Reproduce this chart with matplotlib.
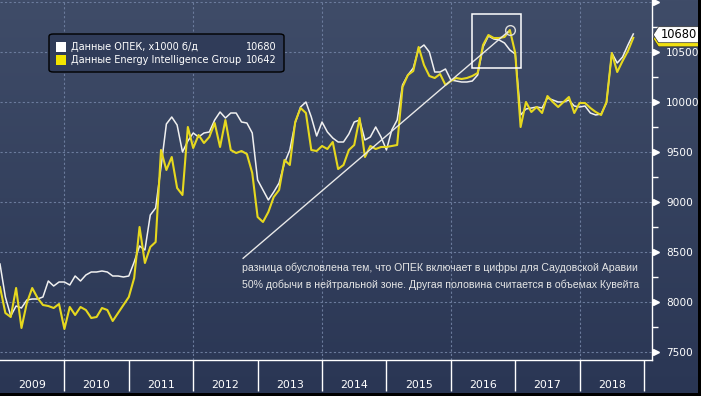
import numpy as np
import matplotlib
matplotlib.use('Agg')
import matplotlib.pyplot as plt
from matplotlib.patches import FancyBboxPatch, Rectangle, Polygon
from matplotlib.transforms import blended_transform_factory

# ---- data (monthly, Jan 2009 .. Nov 2018), thousand barrels/day ----
years = [2009, 2010, 2011, 2012, 2013, 2014, 2015, 2016, 2017, 2018]
opec = [8380, 8050, 7860, 7960, 7940, 8020, 8030, 8030, 8050, 8210, 8160, 8200,
        8200, 8170, 8260, 8210, 8270, 8300, 8300, 8310, 8300, 8260, 8260, 8250,
        8260, 8400, 8560, 8520, 8870, 8940, 9350, 9780, 9850, 9770, 9500, 9610,
        9690, 9650, 9690, 9700, 9820, 9900, 9840, 9890, 9890, 9800, 9790, 9690,
        9220, 9120, 9020, 9100, 9190, 9390, 9520, 9790, 9950, 10000, 9850, 9660,
        9800, 9700, 9640, 9600, 9600, 9680, 9800, 9820, 9620, 9650, 9750, 9650,
        9520, 9720, 9820, 10170, 10270, 10340, 10530, 10570, 10500, 10300, 10300, 10330,
        10220, 10210, 10200, 10200, 10210, 10270, 10550, 10660, 10630, 10620, 10590, 10520,
        10480, 9870, 9930, 9940, 9950, 9940, 10040, 10020, 10000, 10000, 10020, 9960,
        9950, 9960, 9890, 9870, 9880, 9990, 10490, 10390, 10450, 10570, 10680]
eig = [8150, 7890, 7850, 8140, 7740, 7990, 8140, 8040, 7970, 7960, 7940, 7980,
       7730, 7950, 7870, 7950, 7920, 7840, 7850, 7940, 7920, 7810, 7890, 7970,
       8050, 8240, 8750, 8390, 8550, 8600, 9520, 9320, 9450, 9140, 9070, 9750,
       9540, 9670, 9590, 9650, 9790, 9550, 9820, 9520, 9490, 9510, 9480, 9290,
       8850, 8800, 8900, 9050, 9120, 9420, 9370, 9800, 9940, 9890, 9520, 9510,
       9560, 9530, 9600, 9330, 9370, 9520, 9570, 9840, 9450, 9560, 9530, 9550,
       9550, 9560, 9570, 10150, 10270, 10310, 10550, 10370, 10260, 10240, 10280, 10170,
       10210, 10240, 10230, 10240, 10260, 10290, 10570, 10670, 10640, 10640, 10650, 10720,
       10490, 9750, 10000, 9900, 9950, 9890, 10060, 10000, 9950, 10000, 10050, 9890,
       9990, 9990, 9940, 9900, 9870, 10000, 10490, 10300, 10410, 10510, 10642]
legend_labels = ['Данные ОПЕК, x1000 б/д', 'Данные Energy Intelligence Group']
y_ticks = [7500, 8000, 8500, 9000, 9500, 10000, 10500, 11000]
note_lines = ['разница обусловлена тем, что ОПЕК включает в цифры для Саудовской Аравии',
              '50% добычи в нейтральной зоне. Другая половина считается в объемах Кувейта']

months = np.arange(len(opec))

W, H = 701, 396
fig = plt.figure(figsize=(W / 100, H / 100), dpi=100)


def fx(x):
    return x / W


def fy(y):
    return 1 - y / H


# background gradient
bg = fig.add_axes([0, 0, 1, 1], zorder=-10)
g = np.linspace(0, 1, 256)[:, None, None]
top = np.array([63, 76, 104]) / 255
bot = np.array([42, 54, 84]) / 255
img = top + (bot - top) * g
bg.imshow(img, aspect='auto', extent=[0, 1, 0, 1])
bg.set_axis_off()

ax = fig.add_axes([0, 36 / H, 652 / W, 360 / H])
ax.set_facecolor('none')
ax.set_xlim(0, 652 / 5.367)
ax.set_ylim(7420, 11020)

grid_c = '#6b7b9c'
ax.set_yticks(y_ticks)
ax.set_yticklabels([str(v) for v in y_ticks[:-1]] + [''])
ax.yaxis.grid(True, ls=(0, (2, 2)), color=grid_c, lw=0.8, zorder=0)
for m in [12, 36, 60, 84, 108]:
    ax.axvline(m, ls=(0, (2, 2)), color=grid_c, lw=0.8, zorder=0)

ax.plot(months, opec, color='#f0f0f0', lw=1.1, zorder=3)
ax.plot(months, eig, color='#e6d81e', lw=1.5, zorder=4)

# annotations
ax.plot([45.3, 94.6], [8437, 10700], color='#e8e8e8', lw=1.0, zorder=5)
ax.plot([95], [10720], marker='o', ms=7, mfc='none', mec='#dddddd', mew=1, zorder=6)
ax.add_patch(Rectangle((88.0, 10337), 9.0, 540, fill=False, ec='white', lw=1.1, zorder=6))
for i, line in enumerate(note_lines):
    fig.text(fx(242), fy(268 + 17 * i), line, fontsize=7.55, family='Liberation Sans',
             color='#e6e6e6', va='center', ha='left')

# y axis on the right
ax.yaxis.tick_right()
ax.tick_params(axis='y', which='major', length=0, labelsize=7.6, labelcolor='white', pad=10)
ax.set_yticks(np.arange(7750, 11000, 500), minor=True)
ax.tick_params(axis='y', which='minor', length=4, color='white', width=1, direction='out')
tr = blended_transform_factory(ax.transAxes, ax.transData)
ax.plot([656 / 652] * len(y_ticks), y_ticks, transform=tr, marker='>', ms=5, color='white',
        ls='none', clip_on=False, zorder=7)

for s in ['top', 'left']:
    ax.spines[s].set_visible(False)
for s in ['right', 'bottom']:
    ax.spines[s].set_color('white')
    ax.spines[s].set_linewidth(1)

# x axis: year separators and labels
ax.set_xticks(np.arange(12, 121, 12))
ax.set_xticklabels([])
ax.tick_params(axis='x', which='major', length=22, color='white', width=1, direction='out')
trx = blended_transform_factory(ax.transData, ax.transAxes)
for k, yr in enumerate(years):
    ax.text(6 + 12 * k, -25 / 360, str(yr), transform=trx, ha='center', va='center',
            fontsize=7.9, color='white')

# last value labels
def value_tag(val, fc):
    hh = 80
    pts = [(653.3 / 652, val), (658.5 / 652, val + hh), (705 / 652, val + hh),
           (705 / 652, val - hh), (658.5 / 652, val - hh)]
    p = Polygon(pts, closed=True, transform=tr, fc=fc, ec='#333333', lw=0.5,
                clip_on=False, zorder=8)
    ax.add_patch(p)


value_tag(eig[-1] - 10, '#f0e010')
value_tag(opec[-1] - 7, 'white')
ax.text(679 / 652, opec[-1] - 7, str(opec[-1]), transform=tr, ha='center', va='center',
        fontsize=8.3, color='black', zorder=9, clip_on=False)

# legend
fig.patches.append(FancyBboxPatch((fx(49), fy(72)), 235 / W, 38 / H,
                                  boxstyle='round,pad=0,rounding_size=0.006',
                                  fc='#303c59', ec='black', lw=1, transform=fig.transFigure,
                                  zorder=5))
cols = ['white', '#f2e400']
vals = [opec[-1], eig[-1]]
for i in range(2):
    yc = 47 + 13 * i
    fig.patches.append(Rectangle((fx(56), fy(yc + 5)), 10 / W, 10 / H, fc=cols[i], ec='none',
                                 transform=fig.transFigure, zorder=6))
    fig.text(fx(71), fy(yc), legend_labels[i], fontsize=7.0, color='white', va='center',
             ha='left', zorder=7)
    fig.text(fx(277), fy(yc), str(vals[i]), fontsize=7.0, color='white', va='center',
             ha='right', zorder=7)

# black frame on right and bottom
fig.patches.append(Rectangle((0, 0), 1, 3 / H, fc='black', ec='none', transform=fig.transFigure,
                             zorder=20))
fig.patches.append(Rectangle((698 / W, 0), 3 / W, 1, fc='black', ec='none',
                             transform=fig.transFigure, zorder=20))

fig.savefig('out.png', dpi=100)
